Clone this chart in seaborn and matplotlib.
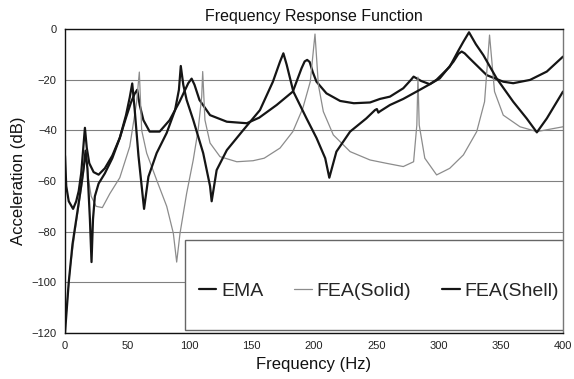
import matplotlib
matplotlib.use("Agg")
import matplotlib.pyplot as plt
from matplotlib.patches import Rectangle
import seaborn as sns
import pandas as pd

# ---- data ----
ema_f = [0, 1, 3, 6.5, 9, 11, 13, 14.5, 16, 17.5, 19.5, 23, 27, 32, 38, 44, 49, 53, 56, 58,
         60, 63, 68, 76, 84, 92, 99, 101.7, 104, 108, 116.5, 130, 146, 156, 170, 183, 190,
         192.5, 194.5, 196.5, 199, 202, 210, 221, 232, 245, 253, 261, 271.7, 278, 280, 286,
         293, 301, 312, 316, 318.6, 321, 325, 338.7, 352, 360, 373.5, 387, 400]
ema_db = [-50, -62, -68, -71, -68, -64, -57, -48, -39, -47, -53, -56.5, -57.5, -55, -50, -43,
          -35, -29, -25.5, -24, -30, -36, -40.5, -40.5, -36, -28.7, -21.4, -19.6, -22, -28,
          -34, -36.6, -37.2, -35, -30, -24.7, -15.5, -12.8, -12.2, -13, -17, -20.8, -25.4,
          -28.4, -29.3, -29, -27.6, -26.7, -23.4, -20, -18.8, -20.5, -21.8, -19.5, -12.9,
          -9.8, -8.9, -9.6, -11.6, -18.2, -20.8, -21.4, -20.1, -16.8, -10.9]

shell_f = [0, 3, 6, 10, 13, 15, 16.5, 18, 20, 21.3, 22.5, 24, 27, 32, 38, 44, 49, 52, 54, 56,
           59, 63.5, 67, 73.6, 81.7, 88.4, 91.5, 93, 95, 97.7, 103, 111, 116.5, 117.8, 121.8,
           130, 143, 156.6, 167, 172.7, 175.4, 178, 183.4, 194, 202, 209, 212.3, 218, 229,
           242, 249, 250.5, 251.7, 253, 261, 271.7, 285, 293, 298.5, 309, 316, 320, 324.5,
           330, 336, 346.7, 360, 370.8, 379, 387, 400]
shell_db = [-120, -100, -85, -72, -62, -55, -48, -55, -75, -92, -75, -66, -61, -57, -51, -43,
            -34, -27, -21.5, -32, -50, -71, -58.3, -49, -41, -32, -24, -14.6, -22, -28, -35.9,
            -49, -62, -68, -55.7, -47.8, -40, -32, -20.8, -12.9, -9.6, -14, -24.7, -35.3, -43,
            -51, -58.7, -48.4, -40.5, -35.3, -32, -31.6, -33, -32.5, -30, -27.6, -24, -21.8,
            -20, -14.9, -8.5, -5, -1.3, -6, -10.3, -19.5, -28.7, -35.3, -40.8, -35.3, -24.7]

solid_f = [0, 4, 8, 11, 14, 16, 17, 18.5, 21, 25, 30, 36, 44, 52, 57.5, 59.7, 61.6, 65.6, 73.6,
           81.7, 87, 89.7, 92.4, 97.7, 103, 107, 109.8, 110.6, 112.4, 116.5, 124.5, 138, 151,
           160, 172.7, 183, 191, 197, 200.8, 203.5, 207.5, 215.5, 229, 245, 258, 271.7, 280,
           282.6, 283.5, 284.5, 289, 298.5, 309, 320, 330.7, 337, 341, 345, 352, 365.5, 379, 400]
solid_db = [-118, -95, -80, -70, -60, -52, -48, -58, -66, -70, -70.5, -65, -58.7, -46.4, -29,
            -17, -40, -49, -59.6, -70, -80.6, -92, -80.6, -64.9, -51.7, -39.6, -26.7, -16.8,
            -35.9, -45, -50.4, -52.4, -52, -51, -47, -40.5, -31.3, -20.8, -2, -22, -32.6, -41.8,
            -48.4, -51.7, -53, -54.3, -52.4, -37.9, -19, -37.9, -51, -57.6, -55, -49.7, -40.5,
            -28.7, -2.4, -24.7, -34, -38.6, -40.5, -38.6]

series_names = ["EMA", "FEA(Solid)", "FEA(Shell)"]
x_ticks = [0, 50, 100, 150, 200, 250, 300, 350, 400]
y_ticks = [0, -20, -40, -60, -80, -100, -120]

# ---- build long table ----
df = pd.concat([
    pd.DataFrame({"f": ema_f, "db": ema_db, "series": series_names[0]}),
    pd.DataFrame({"f": solid_f, "db": solid_db, "series": series_names[1]}),
    pd.DataFrame({"f": shell_f, "db": shell_db, "series": series_names[2]}),
], ignore_index=True)

sns.set_theme(style="white")
plt.rcParams["font.family"] = ["Liberation Sans", "DejaVu Sans"]

W, H = 574, 379
fig = plt.figure(figsize=(W / 100, H / 100), dpi=100)
ax = fig.add_axes([65 / W, 1 - 333 / H, 498 / W, 304 / H])

styles = {
    "EMA": dict(color="#151515", lw=1.6),
    "FEA(Solid)": dict(color="#8c8c8c", lw=0.9),
    "FEA(Shell)": dict(color="#151515", lw=1.6),
}
for name in series_names:
    sub = df[df["series"] == name]
    sns.lineplot(data=sub, x="f", y="db", ax=ax, estimator=None, sort=True,
                 color=styles[name]["color"], linewidth=styles[name]["lw"], label=name,
                 legend=False)

ax.set_xlim(0, 400)
ax.set_ylim(-120, 0)
ax.set_xticks(x_ticks)
ax.set_yticks(y_ticks)
ax.tick_params(axis="both", labelsize=8, length=0, pad=6, colors="#222222")
ax.yaxis.grid(True, color="#808080", linewidth=0.8, linestyle="-")
ax.xaxis.grid(False)
for side in ["left", "top", "bottom"]:
    ax.spines[side].set_color("#111111")
    ax.spines[side].set_linewidth(1.0)
ax.spines["right"].set_color("#777777")
ax.spines["right"].set_linewidth(1.0)

ax.set_title("Frequency Response Function", fontsize=11.5, pad=6, color="#111111")
ax.set_xlabel("Frequency (Hz)", fontsize=12, labelpad=4, color="#111111")
ax.set_ylabel("Acceleration (dB)", fontsize=12, labelpad=4, color="#111111")

# legend box drawn as a frame, legend entries placed inside without frame
def to_axes(px, py):
    return (px - 65) / 498, (333 - py) / 304

x0, y0 = to_axes(185, 330)
x1, y1 = to_axes(563, 240)
ax.add_patch(Rectangle((x0, y0), x1 - x0, y1 - y0, transform=ax.transAxes,
                       facecolor="white", edgecolor="#666666", linewidth=1.0, zorder=5))

handles = [plt.Line2D([], [], color=styles[n]["color"], linewidth=styles[n]["lw"])
           for n in series_names]
cx, cy = to_axes(379, 291)
leg = ax.legend(handles, series_names, loc="center", ncol=3, bbox_to_anchor=(cx, cy),
                fontsize=14, handlelength=0.9, handletextpad=0.25, columnspacing=1.6,
                frameon=False, borderpad=0.0)
leg.set_zorder(6)

fig.savefig("out.png", dpi=100)
